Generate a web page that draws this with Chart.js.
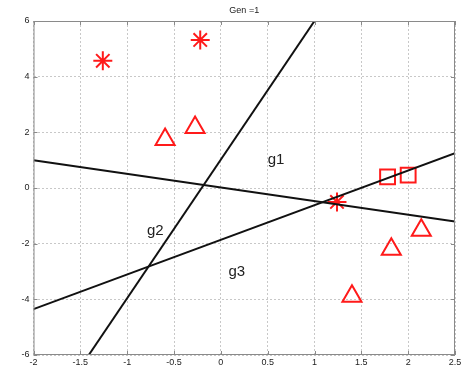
<!DOCTYPE html>
<html>
<head>
<meta charset="utf-8">
<script src="https://cdn.jsdelivr.net/npm/chart.js@4/dist/chart.umd.min.js"></script>
<style>
  html, body { margin: 0; padding: 0; background: #fff; overflow: hidden; }
  #wrap { width: 461px; height: 370px; position: relative; overflow: hidden; }
  canvas { display: block; }
</style>
</head>
<body>
<div id="wrap"><canvas id="chart"></canvas></div>
<script>
// data
const xTicks = [-2, -1.5, -1, -0.5, 0, 0.5, 1, 1.5, 2, 2.5];
const yTicks = [-6, -4, -2, 0, 2, 4, 6];

const asterisks = [{x: -1.26, y: 4.57}, {x: -0.22, y: 5.32}, {x: 1.24, y: -0.5}];
const triangles = [{x: -0.595, y: 1.74}, {x: -0.275, y: 2.17}, {x: 2.14, y: -1.52}, {x: 1.82, y: -2.2}, {x: 1.40, y: -3.89}];
const squares = [{x: 1.78, y: 0.40}, {x: 2.0, y: 0.46}];

const lineG1 = [{x: -2, y: 1.0}, {x: 2.5, y: -1.2}];
const lineG2 = [{x: -1.41, y: -6}, {x: 1.0, y: 6}];
const lineG3 = [{x: -2, y: -4.35}, {x: 2.5, y: 1.25}];

const labels = [
  {text: 'g1', x: 0.59, y: 1.0},
  {text: 'g2', x: -0.70, y: -1.55},
  {text: 'g3', x: 0.17, y: -3.0}
];
const title = 'Gen =1';

const RED = '#ff1a1a';
const tickFont = {family: 'Liberation Sans', size: 9};

// box, inward ticks, x tick labels (may overflow the right edge like the original), title and line names
const decor = {
  id: 'decor',
  afterDatasetsDraw(chart){
    const {ctx, chartArea: a, scales: {x, y}} = chart;
    ctx.save();
    ctx.strokeStyle = '#8a8a8a';
    ctx.lineWidth = 1;
    ctx.strokeRect(a.left + 0.5, a.top + 0.5, a.right - a.left - 1, a.bottom - a.top - 1);
    ctx.beginPath();
    xTicks.forEach(v => {
      const px = Math.round(x.getPixelForValue(v)) + 0.5;
      ctx.moveTo(px, a.top); ctx.lineTo(px, a.top + 4);
      ctx.moveTo(px, a.bottom); ctx.lineTo(px, a.bottom - 4);
    });
    yTicks.forEach(v => {
      const py = Math.round(y.getPixelForValue(v)) + 0.5;
      ctx.moveTo(a.left, py); ctx.lineTo(a.left + 4, py);
      ctx.moveTo(a.right, py); ctx.lineTo(a.right - 4, py);
    });
    ctx.stroke();

    ctx.fillStyle = '#222';
    ctx.font = '9px "Liberation Sans"';
    ctx.textAlign = 'center';
    ctx.textBaseline = 'middle';
    xTicks.forEach(v => ctx.fillText(String(v), x.getPixelForValue(v), a.bottom + 8));
    ctx.fillText(title, (a.left + a.right) / 2, 11);

    ctx.font = '15px "Liberation Sans"';
    labels.forEach(l => {
      ctx.fillText(l.text, x.getPixelForValue(l.x), y.getPixelForValue(l.y));
    });
    ctx.restore();
  }
};

const lineStyle = {showLine: true, borderColor: '#111', borderWidth: 2, pointRadius: 0, pointHoverRadius: 0, fill: false};

new Chart(document.getElementById('chart'), {
  type: 'scatter',
  data: {
    datasets: [
      Object.assign({label: 'g1', data: lineG1}, lineStyle),
      Object.assign({label: 'g2', data: lineG2}, lineStyle),
      Object.assign({label: 'g3', data: lineG3}, lineStyle),
      {label: 'asterisk', data: asterisks, pointStyle: 'star', pointRadius: 9.5, borderColor: RED, borderWidth: 2, backgroundColor: RED},
      {label: 'triangle', data: triangles, pointStyle: 'triangle', pointRadius: 11, borderColor: RED, borderWidth: 2, backgroundColor: 'rgba(0,0,0,0)'},
      {label: 'square', data: squares, pointStyle: 'rect', pointRadius: 10.5, borderColor: RED, borderWidth: 2, backgroundColor: 'rgba(0,0,0,0)'}
    ]
  },
  options: {
    responsive: true,
    maintainAspectRatio: false,
    animation: false,
    events: [],
    layout: {autoPadding: false, padding: {top: 21, right: 6, left: 0, bottom: 0}},
    plugins: {legend: {display: false}, tooltip: {enabled: false}, title: {display: false}},
    scales: {
      x: {
        type: 'linear', min: -2, max: 2.5,
        afterBuildTicks: s => { s.ticks = xTicks.map(v => ({value: v})); },
        afterFit: s => { s.height = 15; },
        ticks: {display: false},
        grid: {color: '#c8c8c8', drawTicks: false},
        border: {display: false, dash: [2, 2]}
      },
      y: {
        type: 'linear', min: -6, max: 6,
        afterBuildTicks: s => { s.ticks = yTicks.map(v => ({value: v})); },
        afterFit: s => { s.width = 33.5; },
        ticks: {font: tickFont, color: '#222', padding: 4, autoSkip: false, callback: v => String(v)},
        grid: {color: '#c8c8c8', drawTicks: false},
        border: {display: false, dash: [2, 2]}
      }
    }
  },
  plugins: [decor]
});
</script>
</body>
</html>
